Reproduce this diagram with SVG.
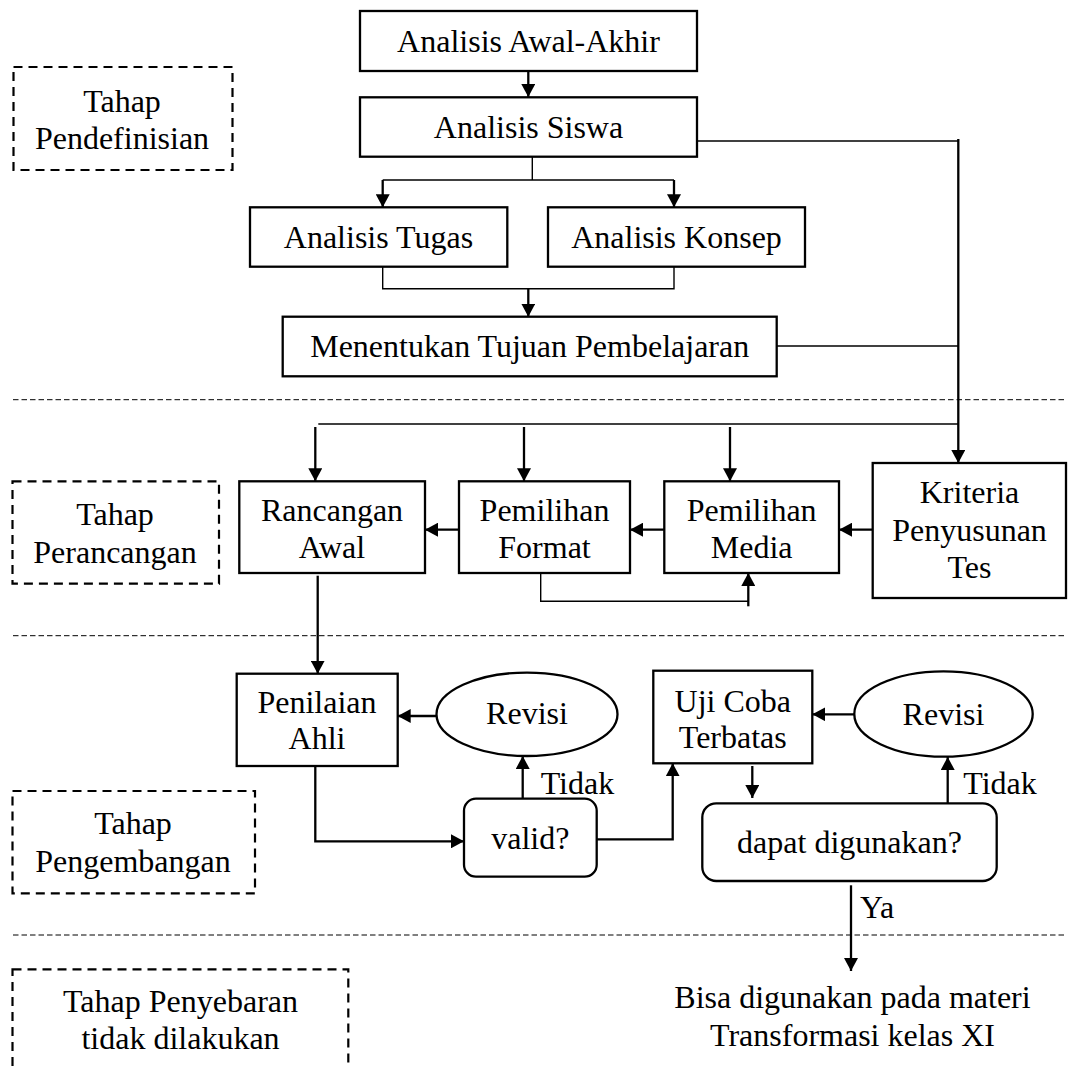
<svg xmlns="http://www.w3.org/2000/svg" width="1068" height="1066" viewBox="0 0 1068 1066">
<style>
text{font-family:"Liberation Serif","Times New Roman",serif;font-size:32px;fill:#000;text-anchor:middle}
.lbl{text-anchor:start}
.box{fill:#fff;stroke:#000;stroke-width:2.3}
.stage{fill:none;stroke:#000;stroke-width:2.2;stroke-dasharray:9 6}
.sep{fill:none;stroke:#000;stroke-width:1;stroke-dasharray:5.5 3}
.thin{fill:none;stroke:#000;stroke-width:1.4}
.bold{fill:none;stroke:#000;stroke-width:2.3}
.arr{fill:none;stroke:#000;stroke-width:2.3;marker-end:url(#ah)}
</style>
<defs>
<marker id="ah" markerUnits="userSpaceOnUse" markerWidth="14" markerHeight="14" refX="13" refY="7" orient="auto">
<path d="M0,0 L13,7 L0,14 z" fill="#000"/>
</marker>
</defs>
<rect width="1068" height="1066" fill="#fff"/>

<g id="separators">
<line class="sep" x1="13" y1="399.7" x2="1066" y2="399.7"/>
<line class="sep" x1="13" y1="635.7" x2="1066" y2="635.7"/>
<line class="sep" x1="13" y1="935" x2="1066" y2="935"/>
</g>

<g id="stage-define">
<rect class="stage" x="13.5" y="67" width="219" height="103"/>
<text x="122" y="111.7">Tahap</text>
<text x="122" y="149">Pendefinisian</text>
</g>
<g id="stage-design">
<rect class="stage" x="12.5" y="481.3" width="206.5" height="102.4"/>
<text x="115" y="524.7">Tahap</text>
<text x="115" y="563">Perancangan</text>
</g>
<g id="stage-develop">
<rect class="stage" x="12.5" y="791" width="242.5" height="102.3"/>
<text x="133" y="834.3">Tahap</text>
<text x="133" y="871.7">Pengembangan</text>
</g>
<g id="stage-disseminate">
<rect class="stage" x="12.5" y="969.3" width="335.8" height="110"/>
<text x="180.5" y="1012">Tahap Penyebaran</text>
<text x="180.5" y="1049.3">tidak dilakukan</text>
</g>

<g id="connectors">
<line class="arr" x1="528.3" y1="71" x2="528.3" y2="97"/>
<polyline class="thin" points="532.3,157 532.3,180"/>
<polyline class="thin" points="382.7,180 674,180"/>
<line class="arr" x1="382.7" y1="180" x2="382.7" y2="207.3"/>
<line class="arr" x1="674" y1="180" x2="674" y2="207.3"/>
<polyline class="thin" points="382.7,266.7 382.7,288.7 674,288.7 674,266.7"/>
<line class="arr" x1="528.3" y1="288.7" x2="528.3" y2="316.7"/>
<polyline class="thin" points="696.7,141 958.3,141"/>
<polyline class="thin" points="776.7,346 958.3,346"/>
<line class="arr" x1="958.3" y1="139" x2="958.3" y2="463"/>
<polyline class="thin" points="318.3,424 958.3,424"/>
<line class="arr" x1="315.3" y1="427" x2="315.3" y2="481.3"/>
<line class="arr" x1="524" y1="427" x2="524" y2="481.3"/>
<line class="arr" x1="730" y1="427" x2="730" y2="481.3"/>
<line class="arr" x1="458.3" y1="529.7" x2="425" y2="529.7"/>
<line class="arr" x1="664.3" y1="529.7" x2="630" y2="529.7"/>
<line class="arr" x1="872.7" y1="529.7" x2="839" y2="529.7"/>
<polyline class="thin" points="540.7,573 540.7,601.3 748.3,601.3"/>
<line class="arr" x1="748.3" y1="606.3" x2="748.3" y2="573"/>
<line class="arr" x1="317.7" y1="575.7" x2="317.7" y2="673.7"/>
<line class="arr" x1="436.7" y1="716" x2="397.7" y2="716"/>
<line class="arr" x1="854.3" y1="714.3" x2="812.3" y2="714.3"/>
<polyline class="arr" points="315.3,766 315.3,841.3 464,841.3"/>
<polyline class="arr" points="596.7,839.3 672.7,839.3 672.7,763.3"/>
<line class="arr" x1="522.7" y1="798.7" x2="522.7" y2="756"/>
<line class="arr" x1="752.3" y1="766" x2="752.3" y2="798"/>
<line class="arr" x1="947.7" y1="803.3" x2="947.7" y2="757"/>
<line class="arr" x1="851" y1="885.3" x2="851" y2="971"/>
<text class="lbl" x="540.7" y="794.3">Tidak</text>
<text class="lbl" x="963.3" y="794.3">Tidak</text>
<text class="lbl" x="860" y="917.7">Ya</text>
</g>

<g id="n-awal-akhir">
<rect class="box" x="360" y="11" width="337" height="60"/>
<text x="528.5" y="51.7">Analisis Awal-Akhir</text>
</g>
<g id="n-siswa">
<rect class="box" x="360" y="97.3" width="337" height="59.4"/>
<text x="528.5" y="137.5">Analisis Siswa</text>
</g>
<g id="n-tugas">
<rect class="box" x="250" y="207.3" width="257.3" height="59.4"/>
<text x="378.5" y="247.5">Analisis Tugas</text>
</g>
<g id="n-konsep">
<rect class="box" x="548" y="207.3" width="257" height="59.4"/>
<text x="676.5" y="247.5">Analisis Konsep</text>
</g>
<g id="n-tujuan">
<rect class="box" x="282.7" y="316.7" width="494" height="59.6"/>
<text x="529.7" y="357">Menentukan Tujuan Pembelajaran</text>
</g>
<g id="n-rancangan">
<rect class="box" x="239.3" y="481.3" width="185.7" height="91.7"/>
<text x="332" y="521.3">Rancangan</text>
<text x="332" y="558">Awal</text>
</g>
<g id="n-format">
<rect class="box" x="459" y="481.3" width="171" height="91.7"/>
<text x="544.5" y="521.3">Pemilihan</text>
<text x="544.5" y="558">Format</text>
</g>
<g id="n-media">
<rect class="box" x="664.3" y="481.3" width="174.7" height="91.7"/>
<text x="751.7" y="521.3">Pemilihan</text>
<text x="751.7" y="558">Media</text>
</g>
<g id="n-kriteria">
<rect class="box" x="872.7" y="463" width="193.3" height="135"/>
<text x="969.5" y="503">Kriteria</text>
<text x="969.5" y="540.7">Penyusunan</text>
<text x="969.5" y="578">Tes</text>
</g>
<g id="n-penilaian">
<rect class="box" x="236.7" y="673.7" width="161" height="92.3"/>
<text x="317" y="713.3">Penilaian</text>
<text x="317" y="749">Ahli</text>
</g>
<g id="n-revisi1">
<ellipse class="box" cx="527" cy="714.3" rx="90.5" ry="41.7"/>
<text x="527" y="724">Revisi</text>
</g>
<g id="n-ujicoba">
<rect class="box" x="653.3" y="670.7" width="159" height="92.6"/>
<text x="732.8" y="711.7">Uji Coba</text>
<text x="732.8" y="747.7">Terbatas</text>
</g>
<g id="n-revisi2">
<ellipse class="box" cx="943.5" cy="714" rx="89.2" ry="42.7"/>
<text x="943.5" y="725">Revisi</text>
</g>
<g id="n-valid">
<rect class="box" x="464" y="798.7" width="132.7" height="78" rx="12"/>
<text x="530.3" y="849">valid?</text>
</g>
<g id="n-dapat">
<rect class="box" x="702.3" y="803.3" width="294.4" height="77.7" rx="14"/>
<text x="849.5" y="852.7">dapat digunakan?</text>
</g>
<g id="n-hasil">
<text x="852.5" y="1007.7">Bisa digunakan pada materi</text>
<text x="852.5" y="1046">Transformasi kelas XI</text>
</g>
</svg>
